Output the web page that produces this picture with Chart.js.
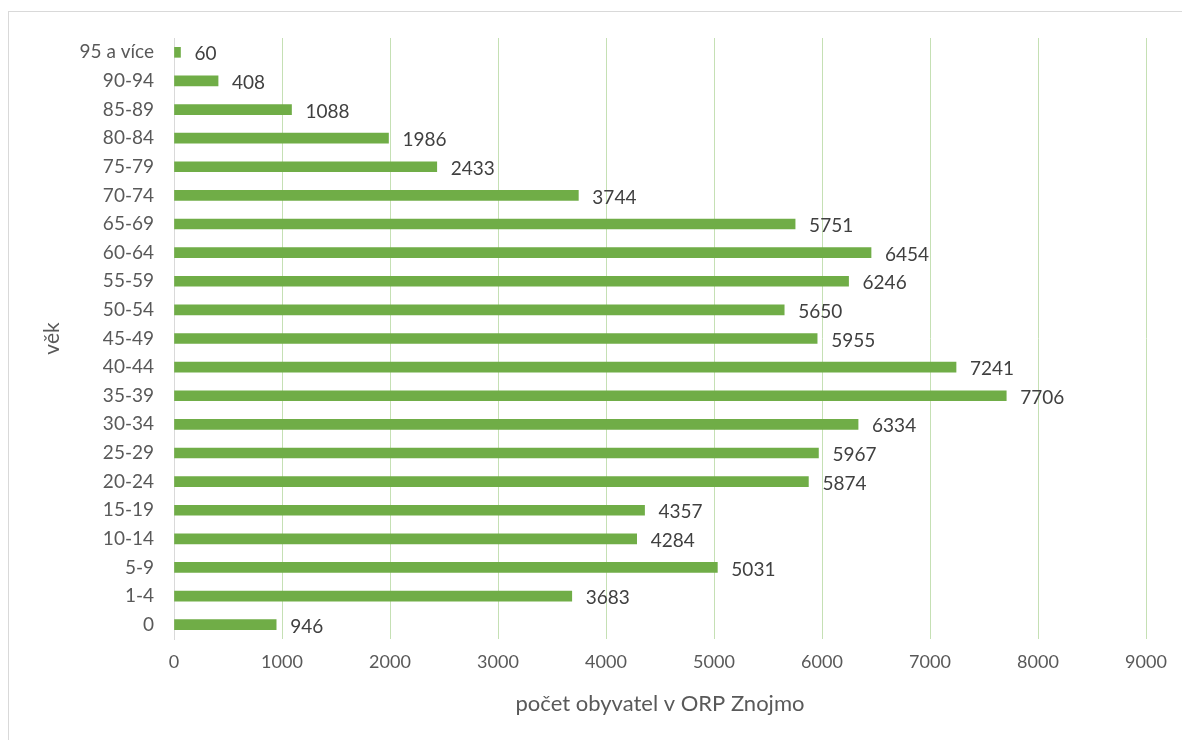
<!DOCTYPE html>
<html>
<head>
<meta charset="utf-8">
<script src="https://cdn.jsdelivr.net/npm/chart.js@4"></script>
<style>
  body { margin: 0; overflow: hidden; background: #fff; }
  #frame { position: absolute; left: 8px; top: 11px; width: 1200px; height: 760px; border: 1px solid #D9D9D9; }
  #wrap { position: absolute; left: 0; top: 0; width: 1182px; height: 740px; }
</style>
</head>
<body>
<div id="frame"></div>
<div id="wrap"><canvas id="ageChart" width="1182" height="740"></canvas></div>
<script>
// age groups from youngest to oldest (axis is reversed so "0" sits at the bottom)
const ageGroups = ['0', '1-4', '5-9', '10-14', '15-19', '20-24', '25-29', '30-34', '35-39', '40-44',
                   '45-49', '50-54', '55-59', '60-64', '65-69', '70-74', '75-79', '80-84', '85-89', '90-94', '95 a více'];
const population = [946, 3683, 5031, 4284, 4357, 5874, 5967, 6334, 7706, 7241,
                    5955, 5650, 6246, 6454, 5751, 3744, 2433, 1986, 1088, 408, 60];
const xTicks = [0, 1000, 2000, 3000, 4000, 5000, 6000, 7000, 8000, 9000];

const fontName = 'Lato, "Open Sans", sans-serif';

// simple value labels at the end of every bar
const barLabels = {
    id: 'barLabels',
    afterDatasetsDraw(chart) {
        const ctx = chart.ctx;
        const meta = chart.getDatasetMeta(0);
        ctx.save();
        ctx.font = '19px ' + fontName;
        ctx.fillStyle = '#404040';
        ctx.textAlign = 'left';
        ctx.textBaseline = 'middle';
        meta.data.forEach((bar, i) => {
            ctx.fillText(String(population[i]), bar.x + 14, bar.y + 2);
        });
        ctx.restore();
    }
};

const ctx = document.getElementById('ageChart').getContext('2d');
const chart = new Chart(ctx, {
    type: 'bar',
    data: {
        labels: ageGroups,
        datasets: [{
            data: population,
            backgroundColor: '#70AD47',
            barThickness: 10
        }]
    },
    options: {
        indexAxis: 'y',
        responsive: false,
        animation: false,
        devicePixelRatio: 1,
        layout: { padding: { top: 38, right: 36, left: 0, bottom: 0 } },
        plugins: { legend: { display: false }, tooltip: { enabled: false } },
        scales: {
            x: {
                min: xTicks[0],
                max: xTicks[xTicks.length - 1],
                afterFit: (scale) => { scale.height = 101; },
                grid: {
                    color: (c) => c.index === 0 ? 'rgba(0,0,0,0)' : '#C5E0B4',
                    lineWidth: 1,
                    drawTicks: false
                },
                border: { display: false },
                ticks: {
                    stepSize: xTicks[1] - xTicks[0],
                    color: '#595959',
                    font: { family: fontName, size: 18 },
                    padding: 12,
                    callback: (v) => String(v)
                },
                title: {
                    display: true,
                    text: 'počet obyvatel v ORP Znojmo',
                    color: '#595959',
                    font: { family: fontName, size: 22 },
                    padding: { top: 0, bottom: 23 }
                }
            },
            y: {
                reverse: true,
                afterFit: (scale) => { scale.width = 174; },
                grid: { display: false, drawTicks: false },
                border: { display: true, color: '#D9D9D9', width: 1 },
                ticks: { color: '#595959', font: { family: fontName, size: 19 }, padding: 20 },
                title: {
                    display: true,
                    text: 'věk',
                    color: '#595959',
                    font: { family: fontName, size: 21 },
                    padding: { top: 40, bottom: 0 }
                }
            }
        }
    },
    plugins: [barLabels]
});
</script>
</body>
</html>
